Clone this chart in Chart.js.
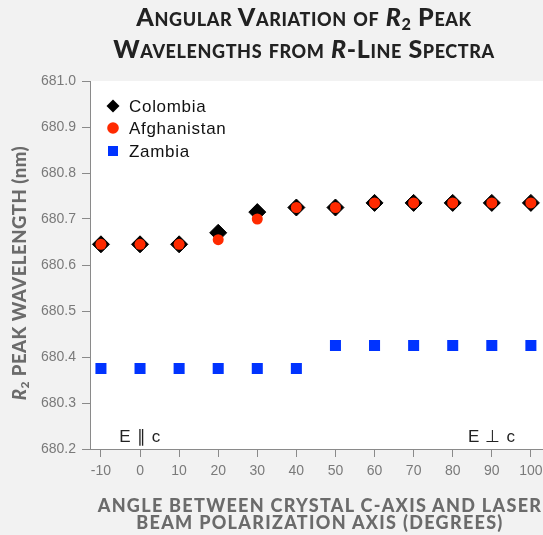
<!DOCTYPE html>
<html>
<head>
<meta charset="utf-8">
<script src="https://cdn.jsdelivr.net/npm/chart.js@4/dist/chart.umd.min.js"></script>
<style>
  body { margin: 0; background: #f2f2f2; }
  #wrap { position: relative; width: 543px; height: 535px; overflow: hidden; }
  #chart { position: absolute; left: 0; top: 0; }
  .title {
    position: absolute; left: 54px; width: 500px; top: 4px;
    text-align: center; font-family: Lato, sans-serif; font-weight: 900;
    font-size: 25px; line-height: 24px; letter-spacing: 0.6px;
    font-variant: small-caps; color: #222;
  }
  .xtitle {
    position: absolute; left: 70px; width: 500px; top: 497px;
    text-align: center; font-family: Lato, sans-serif; font-weight: 900;
    font-size: 18px; line-height: 17px; letter-spacing: 1.3px; color: #6b6b6b;
  }
  .ytitle {
    position: absolute; left: 22px; top: 273px; width: 320px;
    transform: translate(-50%, -50%) rotate(-90deg);
    text-align: center; font-family: Lato, sans-serif; font-weight: 900;
    font-size: 18.5px; line-height: 20px; letter-spacing: 0.5px; color: #6b6b6b; white-space: nowrap;
  }
  sub { font-size: 0.65em; vertical-align: -0.25em; }
</style>
</head>
<body>
<div id="wrap">
  <canvas id="chart" width="543" height="535"></canvas>
  <div class="title">Angular Variation of <i>R</i><sub>2</sub> Peak<br>Wavelengths from <i>R</i>-Line Spectra</div>
  <div class="ytitle"><i>R</i><sub>2</sub> PEAK WAVELENGTH (nm)</div>
  <div class="xtitle">ANGLE BETWEEN CRYSTAL C-AXIS AND LASER<br>BEAM POLARIZATION AXIS (DEGREES)</div>
</div>
<script>
const angles = [-10, 0, 10, 20, 30, 40, 50, 60, 70, 80, 90, 100];
const colombia = [680.645, 680.645, 680.645, 680.670, 680.715, 680.725, 680.725, 680.735, 680.735, 680.735, 680.735, 680.735];
const afghanistan = [680.645, 680.645, 680.645, 680.655, 680.700, 680.725, 680.725, 680.735, 680.735, 680.735, 680.735, 680.735];
const zambia = [680.375, 680.375, 680.375, 680.375, 680.375, 680.375, 680.425, 680.425, 680.425, 680.425, 680.425, 680.425];
const xTicks = [-10, 0, 10, 20, 30, 40, 50, 60, 70, 80, 90, 100];
const yTicks = [680.2, 680.3, 680.4, 680.5, 680.6, 680.7, 680.8, 680.9, 681.0];

const toPoints = vals => angles.map((a, i) => ({ x: a, y: vals[i] }));
const axisColor = '#8a8a8a';
const tickFont = { family: 'Liberation Sans', size: 14 };

// white plot panel on the grey page
const panelBg = {
  id: 'panelBg',
  beforeDraw(chart) {
    const { ctx, chartArea: a } = chart;
    ctx.save();
    ctx.fillStyle = '#ffffff';
    ctx.fillRect(a.left, a.top, a.right - a.left, a.bottom - a.top);
    ctx.restore();
  }
};

// legend inside the plot, plus the polarisation labels
const extras = {
  id: 'extras',
  afterDatasetsDraw(chart) {
    const { ctx, chartArea: a, scales } = chart;
    const lx = a.left + 23;
    const rows = [a.top + 25, a.top + 47, a.top + 70];
    ctx.save();
    // diamond
    ctx.fillStyle = '#000';
    ctx.beginPath();
    ctx.moveTo(lx, rows[0] - 6.5);
    ctx.lineTo(lx + 6.5, rows[0]);
    ctx.lineTo(lx, rows[0] + 6.5);
    ctx.lineTo(lx - 6.5, rows[0]);
    ctx.closePath();
    ctx.fill();
    // circle
    ctx.fillStyle = '#ff2a00';
    ctx.beginPath();
    ctx.arc(lx, rows[1], 5.8, 0, Math.PI * 2);
    ctx.fill();
    // square
    ctx.fillStyle = '#0033ff';
    ctx.fillRect(lx - 5, rows[2] - 5, 10, 10);

    ctx.fillStyle = '#111';
    ctx.font = '17px "Liberation Sans"';
    ctx.letterSpacing = '0.7px';
    ctx.textBaseline = 'middle';
    ctx.textAlign = 'left';
    ['Colombia', 'Afghanistan', 'Zambia'].forEach((t, i) => ctx.fillText(t, lx + 16, rows[i] + 1));

    ctx.textAlign = 'center';
    ctx.fillStyle = '#222';
    const ly = scales.y.getPixelForValue(680.226);
    ctx.fillText('E \u2225 c', scales.x.getPixelForValue(0), ly);
    ctx.fillText('E \u22A5 c', scales.x.getPixelForValue(90), ly);
    ctx.restore();
  }
};

new Chart(document.getElementById('chart'), {
  type: 'scatter',
  data: {
    datasets: [
      {
        label: 'Colombia',
        data: toPoints(colombia),
        order: 3,
        pointStyle: 'rectRot',
        pointRadius: 8.5,
        backgroundColor: '#000',
        borderColor: '#000',
        borderWidth: 1
      },
      {
        label: 'Afghanistan',
        data: toPoints(afghanistan),
        order: 2,
        pointStyle: 'circle',
        pointRadius: 5.5,
        backgroundColor: '#ff2a00',
        borderWidth: 0
      },
      {
        label: 'Zambia',
        data: toPoints(zambia),
        order: 1,
        pointStyle: 'rect',
        pointRadius: 7.8,
        backgroundColor: '#0033ff',
        borderWidth: 0
      }
    ]
  },
  options: {
    responsive: false,
    animation: false,
    layout: { autoPadding: false, padding: { top: 81, left: 0, right: 0, bottom: 0 } },
    plugins: {
      legend: { display: false },
      tooltip: { enabled: false }
    },
    scales: {
      x: {
        type: 'linear',
        min: -12.8,
        max: 103.1,
        afterBuildTicks: s => { s.ticks = xTicks.map(v => ({ value: v })); },
        afterFit: s => { s.height = 86; s.paddingLeft = 0; s.paddingRight = 0; },
        grid: { drawOnChartArea: false, tickLength: 8, color: axisColor },
        border: { color: axisColor },
        ticks: { color: '#7a7a7a', font: tickFont, padding: 6, maxRotation: 0, autoSkip: false }
      },
      y: {
        min: 680.2,
        max: 681.0,
        afterBuildTicks: s => { s.ticks = yTicks.map(v => ({ value: v })); },
        afterFit: s => { s.width = 90; s.paddingTop = 0; s.paddingBottom = 0; },
        grid: { drawOnChartArea: false, tickLength: 8, color: axisColor },
        border: { color: axisColor },
        ticks: { color: '#7a7a7a', font: tickFont, padding: 6, callback: v => v.toFixed(1) }
      }
    }
  },
  plugins: [panelBg, extras]
});
</script>
</body>
</html>
